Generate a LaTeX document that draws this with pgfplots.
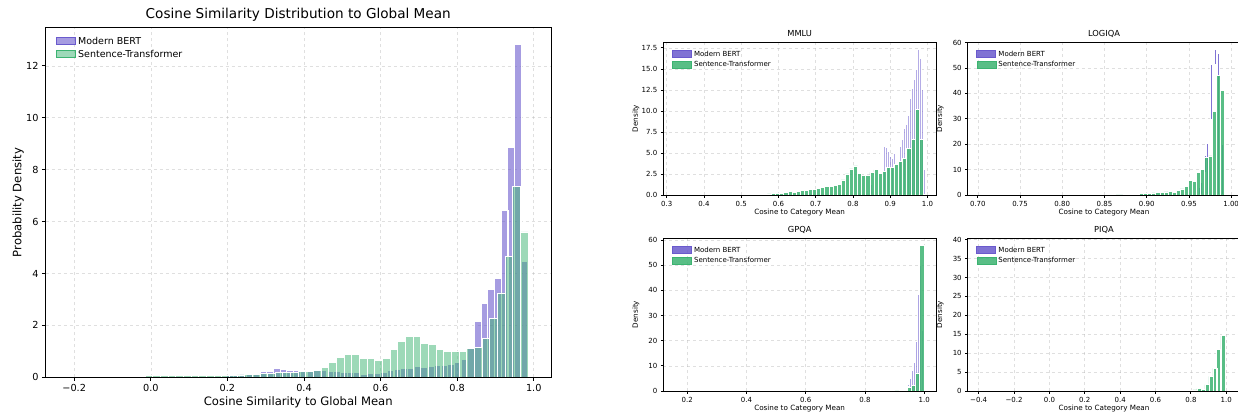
\documentclass[border=0pt]{standalone}
\usepackage{fontspec}
\setmainfont{DejaVu Sans}
\usepackage{pgfplots}
\pgfplotsset{compat=1.18}
\definecolor{mpurple}{RGB}{106,90,205}
\definecolor{mgreen}{RGB}{60,179,113}
\definecolor{spurple}{RGB}{106,90,205}
\definecolor{gridc}{RGB}{176,176,176}
\tikzset{myframe/.style={black, line width=0.9pt}}
\pgfplotsset{
  base/.style={
    scale only axis, clip=false,
    axis line style={black, line width=0.9pt},
    tick align=outside, tick pos=left,
    major tick length=3.5pt,
    every tick/.style={black, line width=0.8pt},
    grid=major,
    major grid style={dashed, gridc, opacity=0.4, line width=0.6pt},
    ymin=0,
    /pgf/number format/assume math mode=true,
    legend cell align=left,
    legend style={draw=none, fill=none},
    every axis title/.style={at={(axis description cs:0.5,1)}, anchor=center},
    every axis x label/.style={at={(axis description cs:0.5,0)}, anchor=center},
  },
  legP/.style={legend image code/.code={\fill[mpurple,fill opacity=0.6] (0pt,-0.3em) rectangle (1.9em,0.4em);}},
  legG/.style={legend image code/.code={\fill[mgreen,fill opacity=0.5] (0pt,-0.3em) rectangle (1.9em,0.4em);}},
  legSP/.style={legend image code/.code={\fill[spurple,fill opacity=0.85] (0pt,-0.3em) rectangle (1.9em,0.4em);}},
  legSG/.style={legend image code/.code={\fill[mgreen,fill opacity=0.85] (0pt,-0.3em) rectangle (1.9em,0.4em);}},
  small/.style={base, width=272.7pt, height=153pt,
    ticklabel style={font=\fontsize{7}{8}\selectfont},
    title style={font=\fontsize{8.3}{9}\selectfont, yshift=8pt},
    xlabel={Cosine to Category Mean}, ylabel={Density},
    xlabel style={font=\fontsize{7.2}{8}\selectfont, yshift=-18pt},
    every axis y label/.style={at={(axis description cs:-0.101,0.5)}, rotate=90, anchor=center, font=\fontsize{7.2}{8}\selectfont},
    major tick length=2.5pt,
    legend style={at={(0.02,0.97)}, anchor=north west, font=\fontsize{7}{8}\selectfont},
  },
  pbar/.style={ybar, bar shift=0pt, bar width=#1, fill=spurple, fill opacity=0.85, draw=white, line width=1.1pt, legSP},
  gbar/.style={ybar, bar shift=0pt, bar width=#1, fill=mgreen, fill opacity=0.85, draw=white, line width=0.7pt, legSG},
}
\begin{document}
\begin{tikzpicture}
\useasboundingbox (0,0) rectangle (1238pt,413pt);
% ---------------- left big plot
\begin{axis}[base, at={(45.5pt,35.7pt)}, anchor=south west, width=505.5pt, height=349.6pt,
  xmin=-0.275, xmax=1.045, ymax=13.47,
  xtick={-0.2,0,0.2,0.4,0.6,0.8,1.0}, xticklabels={−0.2,0.0,0.2,0.4,0.6,0.8,1.0},
  ytick={0,2,4,6,8,10,12},
  ticklabel style={font=\fontsize{9.7}{11}\selectfont},
  title={Cosine Similarity Distribution to Global Mean},
  title style={font=\fontsize{13.6}{15}\selectfont, yshift=12.5pt},
  xlabel={Cosine Similarity to Global Mean}, ylabel={Probability Density},
  xlabel style={font=\fontsize{11.6}{13}\selectfont, yshift=-25.4pt},
  every axis y label/.style={at={(axis description cs:-0.054,0.5)}, rotate=90, anchor=center, font=\fontsize{11.6}{13}\selectfont},
  legend style={at={(0.015,0.985)}, anchor=north west, font=\fontsize{9.5}{11}\selectfont},
]
\addplot[ybar, bar shift=0pt, bar width=0.0175, fill=mpurple, fill opacity=0.6, draw=white, line width=0.9pt, legP] coordinates {
(0.119,0.03)(0.136,0.03)(0.154,0.04)(0.171,0.04)(0.189,0.05)(0.206,0.06)(0.224,0.07)(0.241,0.09)(0.259,0.12)(0.276,0.15)(0.294,0.22)(0.311,0.24)(0.329,0.33)(0.346,0.29)(0.364,0.28)(0.381,0.27)(0.399,0.26)(0.416,0.26)(0.434,0.31)(0.451,0.27)(0.469,0.24)(0.486,0.22)(0.504,0.19)(0.521,0.19)(0.539,0.17)(0.556,0.12)(0.574,0.13)(0.591,0.13)(0.609,0.20)(0.626,0.27)(0.644,0.31)(0.661,0.35)(0.679,0.34)(0.696,0.40)(0.714,0.37)(0.731,0.40)(0.749,0.44)(0.766,0.45)(0.784,0.48)(0.801,0.57)(0.819,0.68)(0.836,1.14)(0.854,2.15)(0.871,2.85)(0.889,3.40)(0.906,3.80)(0.924,6.42)(0.941,8.87)(0.959,12.83)(0.976,4.47)};
\addlegendentry{Modern BERT}
\addplot[ybar, bar shift=0pt, bar width=0.02, fill=mgreen, fill opacity=0.5, draw=white, line width=0.9pt, legG] coordinates {
(-0.205,0.003)(-0.185,0.003)(-0.165,0.003)(-0.145,0.003)(-0.125,0.004)(-0.105,0.005)(-0.085,0.006)(-0.065,0.04)(-0.045,0.05)(-0.025,0.05)(-0.005,0.055)(0.015,0.055)(0.035,0.055)(0.055,0.055)(0.075,0.055)(0.095,0.055)(0.115,0.06)(0.135,0.06)(0.155,0.06)(0.175,0.065)(0.195,0.07)(0.215,0.08)(0.235,0.09)(0.255,0.10)(0.275,0.12)(0.295,0.14)(0.315,0.16)(0.335,0.17)(0.355,0.19)(0.375,0.20)(0.395,0.23)(0.415,0.24)(0.435,0.26)(0.455,0.38)(0.475,0.58)(0.495,0.77)(0.515,0.89)(0.535,0.88)(0.555,0.74)(0.575,0.73)(0.595,0.65)(0.615,0.74)(0.635,1.06)(0.655,1.38)(0.675,1.57)(0.695,1.57)(0.715,1.32)(0.735,1.28)(0.755,1.08)(0.775,0.99)(0.795,1.01)(0.815,1.01)(0.835,1.10)(0.855,1.16)(0.875,1.49)(0.895,2.27)(0.915,3.25)(0.935,4.64)(0.955,7.36)(0.975,5.60)};
\addlegendentry{Sentence-Transformer}
\draw[myframe] (rel axis cs:0,0) rectangle (rel axis cs:1,1);
\end{axis}
% ---------------- MMLU
\begin{axis}[small, at={(663.3pt,218pt)}, anchor=south west,
  xmin=0.291, xmax=1.023, ymax=18.2, title={MMLU},
  xtick={0.3,0.4,0.5,0.6,0.7,0.8,0.9,1.0}, xticklabels={0.3,0.4,0.5,0.6,0.7,0.8,0.9,1.0},
  ytick={0,2.5,5,7.5,10,12.5,15,17.5}, yticklabels={0.0,2.5,5.0,7.5,10.0,12.5,15.0,17.5}]
\addplot[pbar=0.0054, fill opacity=0.5] coordinates {
(0.851,1.2)(0.857,1.5)(0.862,2.0)(0.868,2.4)(0.873,3.0)(0.878,5.0)(0.884,5.8)(0.889,5.6)(0.895,5.2)(0.900,4.6)(0.905,4.3)(0.911,4.9)(0.916,4.7)(0.921,5.4)(0.927,5.8)(0.932,6.6)(0.938,7.9)(0.943,8.4)(0.948,9.5)(0.954,11.5)(0.959,12.7)(0.965,13.7)(0.970,14.9)(0.975,17.35)(0.981,16.3)(0.986,12.6)(0.992,3.0)};
\addlegendentry{Modern BERT}
\addplot[gbar=0.011] coordinates {
(0.565,0.08)(0.576,0.12)(0.587,0.15)(0.598,0.2)(0.609,0.22)(0.620,0.28)(0.631,0.38)(0.642,0.35)(0.653,0.45)(0.664,0.5)(0.675,0.58)(0.686,0.68)(0.697,0.7)(0.708,0.78)(0.719,0.9)(0.730,1.0)(0.741,1.05)(0.752,1.15)(0.763,1.3)(0.774,1.8)(0.785,2.5)(0.796,3.1)(0.807,3.46)(0.818,2.6)(0.829,2.3)(0.840,2.3)(0.851,2.7)(0.862,3.0)(0.873,2.6)(0.884,2.8)(0.895,3.26)(0.906,3.3)(0.917,3.66)(0.928,4.0)(0.939,4.38)(0.950,5.5)(0.961,6.6)(0.972,10.15)(0.983,6.6)};
\addlegendentry{Sentence-Transformer}
\draw[myframe] (rel axis cs:0,0) rectangle (rel axis cs:1,1);
\end{axis}
% ---------------- LOGIQA
\begin{axis}[small, at={(967.7pt,218pt)}, anchor=south west,
  xmin=0.688, xmax=1.011, ymax=60.2, title={LOGIQA},
  xtick={0.7,0.75,0.8,0.85,0.9,0.95,1.0}, xticklabels={0.70,0.75,0.80,0.85,0.90,0.95,1.00},
  ytick={0,10,20,30,40,50,60}]
\addplot[pbar=0.0025] coordinates {
(0.963,3)(0.965,5)(0.968,9)(0.970,15.7)(0.972,20.3)(0.975,29.8)(0.977,51.2)(0.980,51.2)(0.982,57.3)(0.985,55.5)(0.987,32.5)(0.990,20)(0.992,4)};
\addlegendentry{Modern BERT}
\addplot[gbar=0.0048] coordinates {
(0.8604,0.3)(0.8652,0.05)(0.8700,0.05)(0.8748,0.1)(0.8796,0.1)(0.8844,0.2)(0.8892,0.3)(0.8940,0.5)(0.8988,0.6)(0.9036,0.7)(0.9084,0.8)(0.9132,0.9)(0.9180,1.0)(0.9228,1.2)(0.9276,1.3)(0.9324,0.9)(0.9372,1.9)(0.9420,2.4)(0.9468,3.3)(0.9516,5.9)(0.9564,5.25)(0.9612,8.8)(0.9660,10.1)(0.9708,14.7)(0.9756,15.4)(0.9804,32.8)(0.9852,46.9)(0.9900,41.1)};
\addlegendentry{Sentence-Transformer}
\draw[myframe] (rel axis cs:0,0) rectangle (rel axis cs:1,1);
\end{axis}
% ---------------- GPQA
\begin{axis}[small, at={(663.3pt,22pt)}, anchor=south west,
  xmin=0.119, xmax=1.040, ymax=60.8, title={GPQA},
  xtick={0.2,0.4,0.6,0.8,1.0}, xticklabels={0.2,0.4,0.6,0.8,1.0},
  ytick={0,10,20,30,40,50,60}]
\addplot[pbar=0.0066, fill opacity=0.55] coordinates {
(0.929,0.4)(0.935,0.8)(0.942,1.7)(0.948,2.5)(0.955,4.9)(0.962,8.3)(0.968,11.2)(0.975,19.5)(0.982,38.4)(0.988,49.7)(0.995,24.1)};
\addlegendentry{Modern BERT}
\addplot[gbar=0.014] coordinates {
(0.908,0.05)(0.922,0.1)(0.936,0.3)(0.950,1.3)(0.964,2.2)(0.978,7.2)(0.992,57.7)};
\addlegendentry{Sentence-Transformer}
\draw[myframe] (rel axis cs:0,0) rectangle (rel axis cs:1,1);
\end{axis}
% ---------------- PIQA
\begin{axis}[small, at={(967.7pt,22pt)}, anchor=south west,
  xmin=-0.462, xmax=1.08, ymax=40.45, title={PIQA},
  xtick={-0.4,-0.2,0,0.2,0.4,0.6,0.8,1.0}, xticklabels={−0.4,−0.2,0.0,0.2,0.4,0.6,0.8,1.0},
  ytick={0,5,10,15,20,25,30,35,40}]
\addplot[pbar=0.004, fill opacity=0.3] coordinates {
(0.968,2)(0.972,5)(0.976,12)(0.980,30)(0.984,38.5)(0.988,10)};
\addlegendentry{Modern BERT}
\addplot[gbar=0.0226] coordinates {
(0.687,0.05)(0.710,0.05)(0.732,0.05)(0.755,0.1)(0.777,0.2)(0.800,0.25)(0.823,0.3)(0.845,0.6)(0.868,0.5)(0.891,1.7)(0.913,3.9)(0.936,6.0)(0.958,11.0)(0.981,14.6)};
\addlegendentry{Sentence-Transformer}
\draw[myframe] (rel axis cs:0,0) rectangle (rel axis cs:1,1);
\end{axis}
\end{tikzpicture}
\end{document}
